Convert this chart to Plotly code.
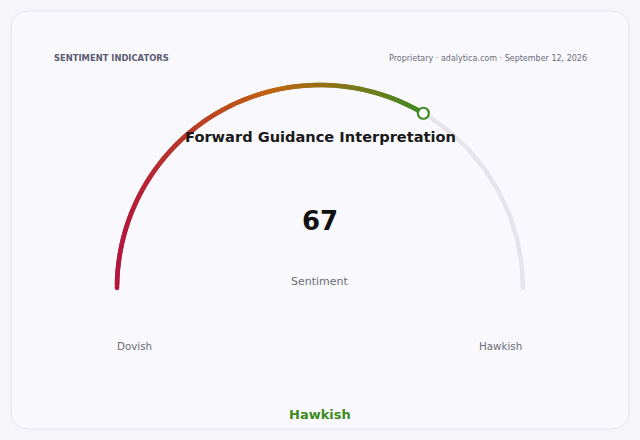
import numpy as np
import plotly.graph_objects as go

# --- данные ---
value = 67
range_min = 0
range_max = 100
title_text = "Forward Guidance Interpretation"
value_label = "Sentiment"
min_label = "Dovish"
max_label = "Hawkish"
verdict = "Hawkish"
header_left = "SENTIMENT INDICATORS"
header_right = "Proprietary · adalytica.com · September 12, 2026"

# цвета градиента: слева направо
grad_colors = ["#b3163e", "#c1640f", "#3f8a22"]
track_color = "#e4e4ea"
font = "DejaVu Sans"

W, H = 640, 440
R_PX = 203          # радиус дуги в пикселях
CX, CY = 320, 288   # центр дуги в пикселях


def hex_to_rgb(h):
    h = h.lstrip("#")
    return [int(h[i:i + 2], 16) for i in (0, 2, 4)]


def grad_at(t):
    """Цвет по доле t в [0, 1] через три опорных цвета"""
    stops = [hex_to_rgb(c) for c in grad_colors]
    if t <= 0.5:
        a, b, f = stops[0], stops[1], t / 0.5
    else:
        a, b, f = stops[1], stops[2], (t - 0.5) / 0.5
    rgb = [round(a[i] + (b[i] - a[i]) * f) for i in range(3)]
    return "rgb({},{},{})".format(*rgb)


def angle_of(v):
    return np.pi * (1 - (v - range_min) / (range_max - range_min))


fig = go.Figure()

# серая дорожка
vals = np.linspace(range_min, range_max, 200)
ang = angle_of(vals)
fig.add_trace(go.Scatter(
    x=np.cos(ang), y=np.sin(ang), mode="lines",
    line=dict(color=track_color, width=4.5), hoverinfo="skip"
))
fig.add_trace(go.Scatter(
    x=[np.cos(angle_of(range_max))], y=[np.sin(angle_of(range_max))],
    mode="markers", marker=dict(color=track_color, size=4.5), hoverinfo="skip"
))

# заполненная часть с градиентом по x (сегменты внахлёст, чтобы не было щелей)
n_seg = 120
fill_vals = np.linspace(range_min, value, n_seg + 1)
fx = np.cos(angle_of(fill_vals))
fy = np.sin(angle_of(fill_vals))
x0, x1 = fx[0], fx[-1]
for i in range(n_seg):
    t = ((fx[i] + fx[i + 1]) / 2 - x0) / (x1 - x0)
    j = min(i + 3, n_seg + 1)
    fig.add_trace(go.Scatter(
        x=fx[i:j], y=fy[i:j], mode="lines",
        line=dict(color=grad_at(t), width=4.5), hoverinfo="skip"
    ))
# скруглённое начало
fig.add_trace(go.Scatter(
    x=[fx[0]], y=[fy[0]], mode="markers",
    marker=dict(color=grad_at(0), size=4.5), hoverinfo="skip"
))
# маркер значения
fig.add_trace(go.Scatter(
    x=[fx[-1]], y=[fy[-1]], mode="markers",
    marker=dict(color="#ffffff", size=11, line=dict(color=grad_colors[-1], width=2.2)),
    hoverinfo="skip"
))


def px(x):
    return x / W


def py(y):
    return 1 - y / H


annotations = [
    dict(x=px(52), y=py(58), text=header_left, xanchor="left",
         font=dict(size=8.4, color="#5c5c70", family=font, weight="bold")),
    dict(x=px(589), y=py(58), text=header_right, xanchor="right",
         font=dict(size=8, color="#6b6b78", family=font)),
    dict(x=px(320), y=py(137), text=title_text,
         font=dict(size=14.6, color="#1a1a1a", family=font, weight="bold")),
    dict(x=px(320), y=py(221), text=str(value),
         font=dict(size=26, color="#111111", family=font, weight="bold")),
    dict(x=px(320), y=py(281), text=value_label,
         font=dict(size=11, color="#6b6b75", family=font)),
    dict(x=px(115), y=py(346), text=min_label, xanchor="left",
         font=dict(size=10.3, color="#6b6b75", family=font)),
    dict(x=px(524), y=py(346), text=max_label, xanchor="right",
         font=dict(size=10.3, color="#6b6b75", family=font)),
    dict(x=px(320), y=py(414), text=verdict,
         font=dict(size=13, color=grad_colors[-1], family=font, weight="bold")),
]
for a in annotations:
    a.update(xref="paper", yref="paper", showarrow=False, yanchor="middle")
    a.setdefault("xanchor", "center")

# карточка со скруглёнными углами
l, t_, r, b, rad = px(11), py(11), px(629), py(429), 18
rx, ry = rad / W, rad / H
card_path = (
    f"M {l + rx},{t_} L {r - rx},{t_} Q {r},{t_} {r},{t_ - ry} "
    f"L {r},{b + ry} Q {r},{b} {r - rx},{b} "
    f"L {l + rx},{b} Q {l},{b} {l},{b + ry} "
    f"L {l},{t_ - ry} Q {l},{t_} {l + rx},{t_} Z"
)

fig.update_layout(
    width=W, height=H,
    margin=dict(l=0, r=0, t=0, b=0),
    paper_bgcolor="#f6f6fa",
    plot_bgcolor="rgba(0,0,0,0)",
    showlegend=False,
    xaxis=dict(range=[-CX / R_PX, (W - CX) / R_PX], visible=False, fixedrange=True),
    yaxis=dict(range=[-(H - CY) / R_PX, CY / R_PX], visible=False, fixedrange=True),
    shapes=[dict(type="path", path=card_path, xref="paper", yref="paper",
                 fillcolor="#f9f9fd", line=dict(color="#e2e2ea", width=1),
                 layer="below")],
    annotations=annotations,
)

fig.write_html(
    "out.html",
    config={"displayModeBar": False},
    post_script="document.body.style.margin='0';",
)
